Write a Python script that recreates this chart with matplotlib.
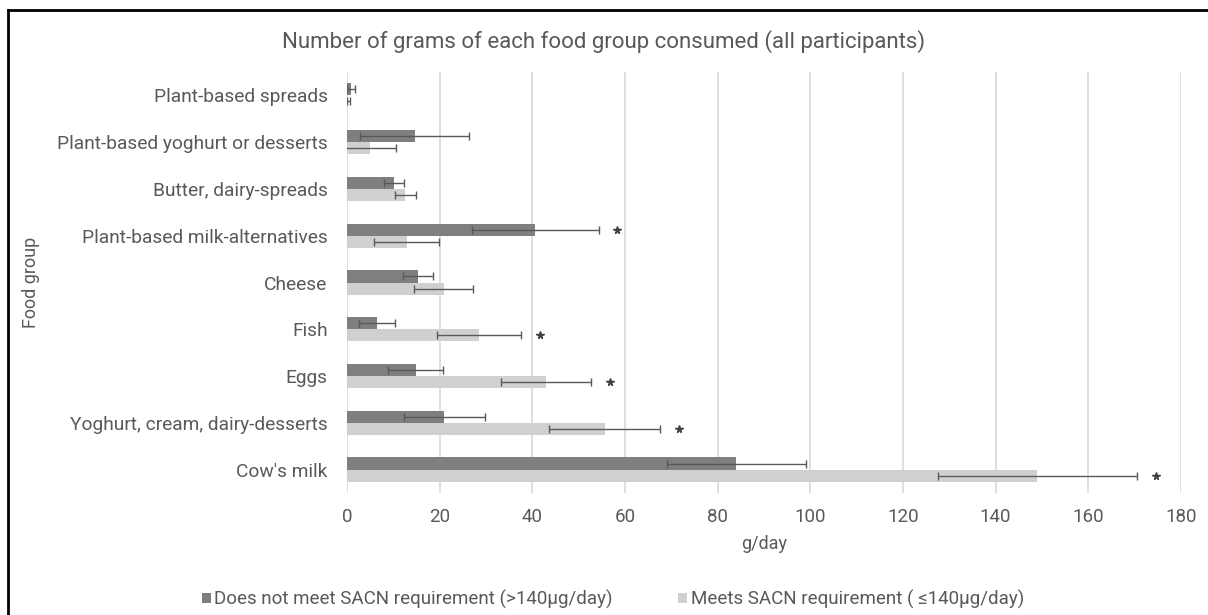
import matplotlib
matplotlib.use("Agg")
import matplotlib.pyplot as plt
from matplotlib.lines import Line2D
from matplotlib.patches import Patch
import numpy as np

plt.rcParams['font.family'] = ['Roboto', 'DejaVu Sans']

# Food groups, listed from the bottom of the chart upwards
food_groups = [
    "Cow's milk",
    "Yoghurt, cream, dairy-desserts",
    "Eggs",
    "Fish",
    "Cheese",
    "Plant-based milk-alternatives",
    "Butter, dairy-spreads",
    "Plant-based yoghurt or desserts",
    "Plant-based spreads",
]

# Mean grams per day and error half-widths
not_meet_mean = [84.0, 21.0, 14.8, 6.5, 15.3, 40.6, 10.1, 14.6, 0.9]
not_meet_err = [15.0, 8.7, 6.0, 3.9, 3.2, 13.7, 2.1, 11.8, 0.9]
meets_mean = [149.0, 55.6, 43.0, 28.5, 20.9, 12.9, 12.6, 4.9, 0.3]
meets_err = [21.5, 12.0, 9.7, 9.1, 6.4, 7.0, 2.2, 5.6, 0.3]

# Which bar of each group carries a significance star
star_not_meet = [False, False, False, False, False, True, False, False, False]
star_meets = [True, True, True, True, False, False, False, False, False]

x_ticks = [0, 20, 40, 60, 80, 100, 120, 140, 160, 180]

label_not_meet = "Does not meet SACN requirement (>140\u00b5g/day)"
label_meets = "Meets SACN requirement ( \u2264140\u00b5g/day)"

dark = "#7f7f7f"
light = "#d0d0d0"
err_col = "#595959"
text_col = "#595959"

W, H = 1208, 615
fig = plt.figure(figsize=(W / 100, H / 100), dpi=100)
ax = fig.add_axes([347 / W, 1 - 493 / H, 834 / W, 421 / H])

y = np.arange(len(food_groups))
h = 0.26

ax.barh(y + h / 2, not_meet_mean, height=h, color=dark, zorder=2)
ax.barh(y - h / 2, meets_mean, height=h, color=light, zorder=2)
ax.errorbar(not_meet_mean, y + h / 2, xerr=not_meet_err, fmt='none',
            ecolor=err_col, elinewidth=1.0, capsize=3, capthick=1.0, zorder=3)
ax.errorbar(meets_mean, y - h / 2, xerr=meets_err, fmt='none',
            ecolor=err_col, elinewidth=1.0, capsize=3, capthick=1.0, zorder=3)

# Significance stars just past the upper whisker
for i in range(len(food_groups)):
    if star_not_meet[i]:
        ax.plot(not_meet_mean[i] + not_meet_err[i] + 4, y[i] + h / 2, marker='*',
                color="#404040", markersize=5.5, zorder=4)
    if star_meets[i]:
        ax.plot(meets_mean[i] + meets_err[i] + 4, y[i] - h / 2, marker='*',
                color="#404040", markersize=5.5, zorder=4)

ax.set_xlim(0, 180)
ax.set_ylim(-0.5, len(food_groups) - 0.5)
ax.set_xticks(x_ticks)
ax.set_yticks(y)
ax.set_yticklabels(food_groups)
ax.grid(axis='x', color="#d9d9d9", linewidth=1.2, zorder=0)
ax.set_axisbelow(True)
for s in ax.spines.values():
    s.set_visible(False)
ax.tick_params(axis='both', length=0, labelcolor=text_col)
ax.tick_params(axis='x', pad=11, labelsize=13.5)
ax.tick_params(axis='y', pad=14, labelsize=13.8)

ax.set_xlabel("g/day", fontsize=13, color=text_col, labelpad=6)
ax.set_ylabel("Food group", fontsize=13, color=text_col)
ax.yaxis.set_label_coords((40 - 347) / 834, 0.5)

fig.text(0.5, 1 - 42 / H, "Number of grams of each food group consumed (all participants)",
         ha='center', va='center', fontsize=16, color=text_col)

handles = [Patch(facecolor=dark, edgecolor='none'), Patch(facecolor=light, edgecolor='none')]
fig.legend(handles, [label_not_meet, label_meets], loc='center',
           bbox_to_anchor=(613 / W, 1 - 599 / H), ncol=2, frameon=False,
           fontsize=13.5, handlelength=0.45, handleheight=0.45, handletextpad=0.2,
           columnspacing=3.5, labelcolor=text_col, borderpad=0, borderaxespad=0)

# Outer frame (top and left edges)
fig.add_artist(Line2D([8 / W, 1.0], [1 - 10 / H, 1 - 10 / H], color='black',
                      linewidth=2, transform=fig.transFigure))
fig.add_artist(Line2D([8 / W, 8 / W], [0.0, 1 - 10 / H], color='black',
                      linewidth=2, transform=fig.transFigure))

fig.savefig("out.png", dpi=100, facecolor='white')
